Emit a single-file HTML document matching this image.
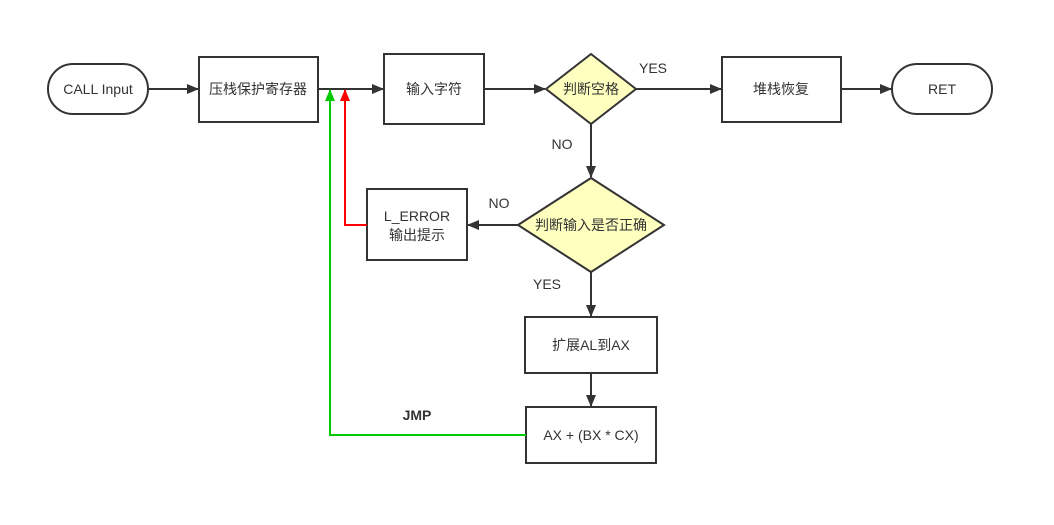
<!DOCTYPE html>
<html><head><meta charset="utf-8"><style>
html,body{margin:0;padding:0;background:#fff;width:1054px;height:525px;overflow:hidden}
text{font-family:"Liberation Sans","Noto Sans CJK SC",sans-serif;font-size:14px;fill:#333}
</style></head><body>
<svg width="1054" height="525" viewBox="0 0 1054 525" xmlns="http://www.w3.org/2000/svg">
<defs>
<marker id="a" markerWidth="12" markerHeight="10" refX="11" refY="5" orient="auto" markerUnits="userSpaceOnUse"><path d="M0,0 L12,5 L0,10 Z" fill="#333"/></marker>
<marker id="r" markerWidth="12" markerHeight="10" refX="11" refY="5" orient="auto" markerUnits="userSpaceOnUse"><path d="M0,0 L12,5 L0,10 Z" fill="#f00"/></marker>
<marker id="g" markerWidth="12" markerHeight="10" refX="11" refY="5" orient="auto" markerUnits="userSpaceOnUse"><path d="M0,0 L12,5 L0,10 Z" fill="#0c0"/></marker>
</defs>
<g stroke="#333" stroke-width="2" fill="#fff">
<rect x="48" y="64" width="100" height="50" rx="25"/>
<rect x="199" y="57" width="119" height="65"/>
<rect x="384" y="54" width="100" height="70"/>
<polygon points="546,89 591,54 636,89 591,124" fill="#ffffc0"/>
<rect x="722" y="57" width="119" height="65"/>
<rect x="892" y="64" width="100" height="50" rx="25"/>
<polygon points="518,225 591,178 664,225 591,272" fill="#ffffc0"/>
<rect x="367" y="189" width="100" height="71"/>
<rect x="525" y="317" width="132" height="56"/>
<rect x="526" y="407" width="130" height="56"/>
</g>
<g stroke="#333" stroke-width="2" fill="none">
<line x1="148" y1="89" x2="198" y2="89" marker-end="url(#a)"/>
<line x1="318" y1="89" x2="383" y2="89" marker-end="url(#a)"/>
<line x1="484" y1="89" x2="545" y2="89" marker-end="url(#a)"/>
<line x1="636" y1="89" x2="721" y2="89" marker-end="url(#a)"/>
<line x1="841" y1="89" x2="891" y2="89" marker-end="url(#a)"/>
<line x1="591" y1="124" x2="591" y2="177" marker-end="url(#a)"/>
<line x1="518" y1="225" x2="468" y2="225" marker-end="url(#a)"/>
<line x1="591" y1="272" x2="591" y2="316" marker-end="url(#a)"/>
<line x1="591" y1="373" x2="591" y2="406" marker-end="url(#a)"/>
</g>
<polyline points="367,225 345,225 345,90" stroke="#f00" stroke-width="2" fill="none" marker-end="url(#r)"/>
<polyline points="526,435 330,435 330,90" stroke="#0c0" stroke-width="2" fill="none" marker-end="url(#g)"/>
<g text-anchor="middle">
<text x="98" y="94">CALL Input</text>
<text x="258" y="94">压栈保护寄存器</text>
<text x="434" y="94">输入字符</text>
<text x="591" y="94">判断空格</text>
<text x="781" y="94">堆栈恢复</text>
<text x="942" y="94">RET</text>
<text x="591" y="230">判断输入是否正确</text>
<text x="417" y="221">L_ERROR</text>
<text x="417" y="240">输出提示</text>
<text x="591" y="350">扩展AL到AX</text>
<text x="591" y="440">AX + (BX * CX)</text>
<text x="653" y="73">YES</text>
<text x="562" y="149">NO</text>
<text x="499" y="208">NO</text>
<text x="547" y="289">YES</text>
<text x="417" y="420" font-weight="bold">JMP</text>
</g>
</svg>
</body></html>
